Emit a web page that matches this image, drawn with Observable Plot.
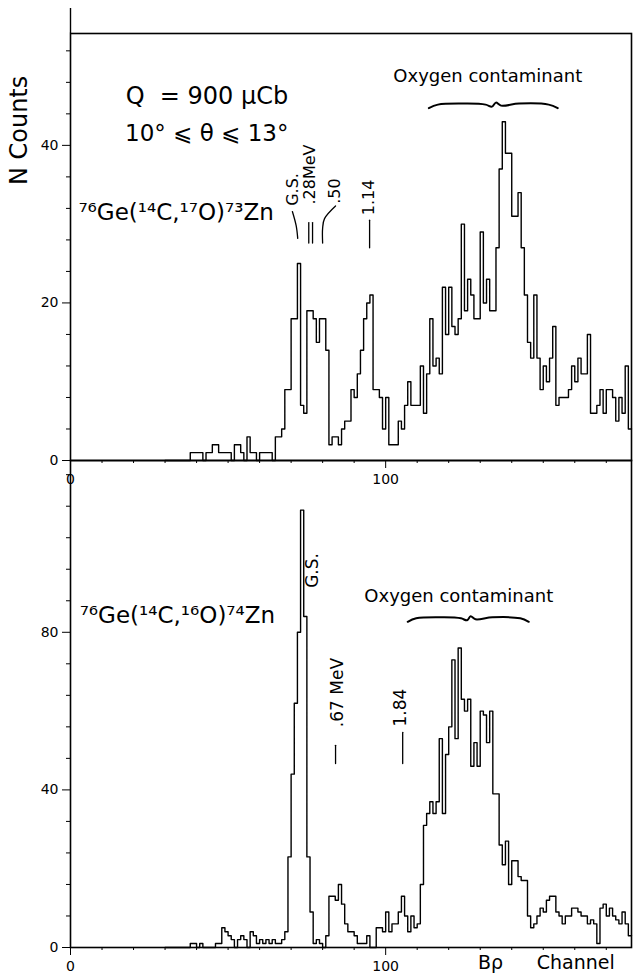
<!DOCTYPE html>
<html>
<head>
<meta charset="utf-8">
<script src="https://cdn.jsdelivr.net/npm/d3@7"></script>
<script src="https://cdn.jsdelivr.net/npm/@observablehq/plot@0.6"></script>
<style>
  html, body { margin: 0; padding: 0; background: #fff; }
  #chart { position: relative; width: 634px; height: 980px; overflow: hidden; background: #fff; }
  #chart svg { position: absolute; left: 0; }
</style>
</head>
<body>
<div id="chart"></div>
<script>
// ---------------- DATA ----------------
const firstChannel = 30;           // first channel listed in the count arrays
const lastChannelEdge = 178;       // right edge of the spectrum

// Top panel: 76Ge(14C,17O)73Zn, counts per channel from channel 30 to 177
const topCounts = [
  0, 0, 0, 0, 0, 0, 0, 0, 1, 1,          // 30-39
  1, 1, 0, 1, 1, 2, 2, 1, 1, 1,          // 40-49
  1, 0, 2, 2, 1, 0, 3, 1, 1, 0,          // 50-59
  1, 1, 1, 1, 0, 3, 3, 4, 9, 9,          // 60-69
  18, 18, 25, 7, 6, 19, 19, 18, 15, 18,  // 70-79
  18, 14, 2, 3, 3, 2, 4, 5, 5, 9,        // 80-89
  8, 11, 14, 18, 20, 21, 9, 9, 8, 4,     // 90-99
  8, 2, 2, 2, 5, 4, 7, 10, 7, 7,         // 100-109
  7, 12, 6, 11, 18, 12, 13, 11, 22, 16,  // 110-119
  22, 17, 16, 18, 30, 19, 23, 21, 18, 18,// 120-129
  29, 20, 23, 19, 19, 27, 37, 43, 39, 39,// 130-139
  31, 31, 34, 27, 21, 15, 13, 21, 13, 9, // 140-149
  12, 10, 13, 17, 7, 8, 8, 8, 9, 12,     // 150-159
  10, 13, 11, 11, 16, 6, 6, 7, 9, 6,     // 160-169
  9, 9, 8, 5, 8, 6, 12, 4                // 170-177
];

// Bottom panel: 76Ge(14C,16O)74Zn, counts per channel from channel 30 to 177
const bottomCounts = [
  0, 0, 0, 0, 0, 0, 0, 0, 1, 1,          // 30-39
  0, 1, 0, 0, 0, 0, 1, 1, 5, 4,          // 40-49
  3, 2, 0, 2, 3, 2, 0, 4, 3, 1,          // 50-59
  2, 1, 2, 1, 2, 1, 1, 2, 4, 23,         // 60-69
  44, 62, 80, 111, 84, 23, 9, 1, 2, 1,   // 70-79
  0, 3, 13, 13, 12, 16, 11, 6, 4, 4,     // 80-89
  3, 1, 1, 1, 3, 0, 0, 5, 5, 4,          // 90-99
  9, 4, 6, 6, 9, 13, 8, 4, 8, 5,         // 100-109
  6, 16, 31, 34, 37, 34, 37, 53, 34, 49, // 110-119
  56, 73, 53, 76, 63, 60, 63, 46, 52, 46,// 120-129
  60, 59, 52, 60, 39, 39, 26, 21, 27, 16,// 130-139
  22, 22, 18, 17, 17, 8, 5, 6, 8, 10,    // 140-149
  9, 12, 13, 13, 9, 8, 6, 8, 8, 10,      // 150-159
  10, 9, 8, 8, 6, 7, 6, 1, 10, 11,       // 160-169
  8, 10, 8, 7, 6, 9, 6, 3                // 170-177
];

// axis ticks
const xMajorTicks = [0, 100];
const xMinorTicks = [10, 20, 30, 40, 50, 60, 70, 80, 90, 110, 120, 130, 140, 150, 160, 170];
const topYMajor = [0, 20, 40];
const topYMinor = [4, 8, 12, 16, 24, 28, 32, 36, 44, 48, 52];
const bottomYMajor = [0, 40, 80];
const bottomYMinor = [8, 16, 24, 32, 48, 56, 64, 72, 88, 96, 104, 112, 120];
const topYMax = 54.2;
const bottomYMax = 123.6;

// annotations (channel, counts)
const topTexts = [
  {x: 17.5, y: 46.2, t: "Q  = 900 μCb", size: 24},
  {x: 17.3, y: 41.5, t: "10° ⩽ θ ⩽ 13°", size: 23},
  {x: 2.5, y: 31.4, t: "⁷⁶Ge(¹⁴C,¹⁷O)⁷³Zn", size: 23}
];
const topLevels = [
  {x: 70.6, y: 34.4, t: "G.S."},
  {x: 76.1, y: 36.3, t: ".28MeV"},
  {x: 83.8, y: 34.2, t: ".50"},
  {x: 94.6, y: 33.4, t: "1.14"}
];
const topMarkers = [
  {id: "gs", x: 70.4, y: 31.6}, {id: "gs", x: 71.6, y: 29.8}, {id: "gs", x: 72.1, y: 28.2},
  {id: "p28a", x: 75.6, y: 30.2}, {id: "p28a", x: 75.6, y: 27.6},
  {id: "p28b", x: 76.8, y: 30.2}, {id: "p28b", x: 76.8, y: 27.6},
  {id: "p50", x: 84.1, y: 32.3}, {id: "p50", x: 80.6, y: 30.7}, {id: "p50", x: 80.0, y: 29.5}, {id: "p50", x: 80.0, y: 27.6},
  {id: "p114", x: 94.9, y: 30.5}, {id: "p114", x: 94.9, y: 27.0}
];
const topOxygen = {label: "Oxygen contaminant", x: 132.4, y: 48.8, from: 113.7, to: 154.6, level: 45.3};

const bottomTexts = [
  {x: 2.9, y: 84.3, t: "⁷⁶Ge(¹⁴C,¹⁶O)⁷⁴Zn", size: 23}
];
const bottomLevels = [
  {x: 76.8, y: 95.7, t: "G.S."},
  {x: 84.8, y: 64.7, t: ".67 MeV"},
  {x: 104.8, y: 60.9, t: "1.84"}
];
const bottomMarkers = [
  {id: "p67", x: 84.1, y: 51.3}, {id: "p67", x: 84.1, y: 46.7},
  {id: "p184", x: 105.4, y: 54.6}, {id: "p184", x: 105.4, y: 46.7}
];
const bottomOxygen = {label: "Oxygen contaminant", x: 123.2, y: 89.1, from: 107, to: 145.4, level: 83.8};
const xTitle = [{x: 133.3, t: "Bρ"}, {x: 160.3, t: "Channel"}];
const yTitle = "N Counts";

// curly-brace outline: fraction along span, offset in px (down positive)
const braceShape = [[0, 4.5], [0.07, 1], [0.3, 0], [0.44, 1], [0.49, 3], [0.52, -1], [0.56, 2], [0.7, 0], [0.93, 1], [1, 4.5]];

// ---------------- BUILD ----------------
const FONT = "'DejaVu Sans', 'Liberation Sans', Arial, sans-serif";

function spectrum(counts) {
  const pts = counts.map((v, i) => ({ch: firstChannel + i, v}));
  pts.push({ch: lastChannelEdge, v: counts[counts.length - 1]});
  return pts;
}
function brace(o, pxPerUnit) {
  return braceShape.map(([f, dpx]) => ({x: o.from + f * (o.to - o.from), y: o.level - dpx / pxPerUnit}));
}

const W = 634, ML = 70, MR = 3;
const topH = 500, topMT = 33, topMB = 40;
const botH = 520, botMT = 0, botMB = 33;
const topPx = (topH - topMT - topMB) / topYMax;
const botPx = (botH - botMT - botMB) / bottomYMax;

function axes(yMajor, yMinor) {
  return [
    Plot.axisY(yMajor, {tickSize: 8, tickPadding: 4, fontSize: 14, label: null}),
    Plot.axisY(yMinor, {tickSize: 4, tickFormat: () => "", label: null}),
    Plot.axisX(xMajorTicks, {tickSize: 8, tickPadding: 6, fontSize: 14, label: null}),
    Plot.axisX(xMinorTicks, {tickSize: 3, tickFormat: () => "", label: null})
  ];
}

const style = {fontFamily: FONT, fontSize: "14px", background: "transparent", overflow: "visible", color: "#000"};

const topPlot = Plot.plot({
  width: W, height: topH, marginLeft: ML, marginRight: MR, marginTop: topMT, marginBottom: topMB,
  x: {domain: [0, lastChannelEdge]},
  y: {domain: [0, topYMax]},
  style,
  marks: [
    ...axes(topYMajor, topYMinor),
    Plot.frame({stroke: "#000", strokeWidth: 1.6}),
    Plot.ruleX([0], {y1: topYMax, y2: topYMax + 25 / topPx, stroke: "#000", strokeWidth: 1.4}),
    Plot.line(spectrum(topCounts), {x: "ch", y: "v", curve: "step-after", stroke: "#000", strokeWidth: 1.4}),
    Plot.text(topTexts, {x: "x", y: "y", text: "t", fontSize: (d) => d.size, textAnchor: "start", fill: "#000"}),
    Plot.text(topLevels, {x: "x", y: "y", text: "t", rotate: -90, fontSize: 16, fill: "#000"}),
    Plot.line(topMarkers, {x: "x", y: "y", z: "id", stroke: "#000", strokeWidth: 1.3, curve: "catmull-rom"}),
    Plot.text([topOxygen], {x: "x", y: "y", text: "label", fontSize: 18, fill: "#000"}),
    Plot.line(brace(topOxygen, topPx), {x: "x", y: "y", curve: "catmull-rom", stroke: "#000", strokeWidth: 2}),
    Plot.text([yTitle], {frameAnchor: "left", y: () => 41.9, dx: -51, text: (d) => d, textAnchor: "middle", rotate: -90, fontSize: 24, fill: "#000"})
  ]
});

const botPlot = Plot.plot({
  width: W, height: botH, marginLeft: ML, marginRight: MR, marginTop: botMT, marginBottom: botMB,
  x: {domain: [0, lastChannelEdge]},
  y: {domain: [0, bottomYMax]},
  style,
  marks: [
    ...axes(bottomYMajor, bottomYMinor),
    Plot.frame({stroke: "#000", strokeWidth: 1.6}),
    Plot.line(spectrum(bottomCounts), {x: "ch", y: "v", curve: "step-after", stroke: "#000", strokeWidth: 1.4}),
    Plot.text(bottomTexts, {x: "x", y: "y", text: "t", fontSize: (d) => d.size, textAnchor: "start", fill: "#000"}),
    Plot.text(bottomLevels, {x: "x", y: "y", text: "t", rotate: -90, fontSize: 17, fill: "#000"}),
    Plot.line(bottomMarkers, {x: "x", y: "y", z: "id", stroke: "#000", strokeWidth: 1.3}),
    Plot.text([bottomOxygen], {x: "x", y: "y", text: "label", fontSize: 18, fill: "#000"}),
    Plot.line(brace(bottomOxygen, botPx), {x: "x", y: "y", curve: "catmull-rom", stroke: "#000", strokeWidth: 2}),
    Plot.text(xTitle, {x: "x", frameAnchor: "bottom", dy: 21, text: "t", fontSize: 19, fill: "#000"})
  ]
});

const chart = document.getElementById("chart");
topPlot.style.top = "0px";
botPlot.style.top = (topH - topMB) + "px";
chart.appendChild(botPlot);
chart.appendChild(topPlot);
</script>
</body>
</html>
